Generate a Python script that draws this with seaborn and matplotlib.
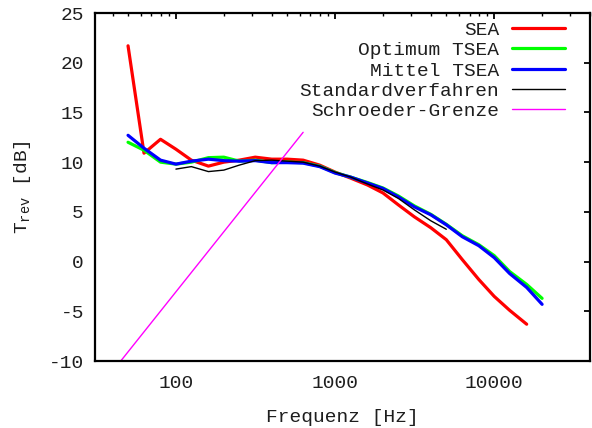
import numpy as np
import pandas as pd
import matplotlib
matplotlib.use('Agg')
import matplotlib.pyplot as plt
from matplotlib.ticker import FixedLocator, LogLocator, NullFormatter
import seaborn as sns

# third-octave band centre frequencies
freq = [50, 63, 80, 100, 125, 160, 200, 250, 315, 400, 500, 630, 800, 1000,
        1250, 1600, 2000, 2500, 3150, 4000, 5000, 6300, 8000, 10000, 12500,
        16000, 20000]

sea = [21.7, 10.9, 12.3, 11.3, 10.2, 9.6, 10.0, 10.2, 10.5, 10.3, 10.3, 10.2,
       9.7, 9.0, 8.4, 7.7, 6.9, 5.7, 4.5, 3.4, 2.2, 0.2, -1.8, -3.5, -4.9, -6.3]
opt_tsea = [12.0, 11.2, 10.0, 9.8, 10.0, 10.45, 10.5, 10.1, 10.2, 9.95, 10.0,
            9.95, 9.6, 8.95, 8.5, 7.95, 7.4, 6.6, 5.6, 4.75, 3.75, 2.6, 1.7,
            0.6, -1.0, -2.3, -3.7]
mittel_tsea = [12.7, 11.4, 10.2, 9.8, 10.1, 10.3, 10.15, 10.1, 10.15, 9.95,
               9.95, 9.9, 9.55, 8.9, 8.5, 7.9, 7.35, 6.5, 5.5, 4.7, 3.7, 2.5,
               1.6, 0.4, -1.2, -2.6, -4.3]
standard = [9.3, 9.55, 9.05, 9.2, 9.7, 10.15, 10.2, 10.1, 10.0, 9.6, 9.0, 8.5,
            7.8, 7.2, 6.35, 5.2, 4.1, 3.25]
schroeder_f = [45, 630]
schroeder = [-10.0, 13.0]

xticks = [100, 1000, 10000]
xticklabels = ['100', '1000', '10000']
yticks = [-10, -5, 0, 5, 10, 15, 20, 25]

sns.set_theme(style='white')
plt.rcParams['font.family'] = ['Liberation Mono', 'DejaVu Sans']
plt.rcParams['mathtext.fontset'] = 'custom'
plt.rcParams['mathtext.rm'] = 'Liberation Mono'
plt.rcParams['mathtext.it'] = 'Liberation Mono'
fs = 14
txt = '#1e1e1e'

fig = plt.figure(figsize=(5.92, 4.28), dpi=100)
ax = fig.add_axes([95 / 592, 1 - 361 / 428, 495 / 592, 348 / 428])

lw = 2.3
sns.lineplot(x=freq[:len(sea)], y=sea, ax=ax, color='#ff0000', lw=lw, label='SEA')
sns.lineplot(x=freq, y=opt_tsea, ax=ax, color='#00ff00', lw=lw, label='Optimum TSEA')
sns.lineplot(x=freq, y=mittel_tsea, ax=ax, color='#0000ff', lw=lw, label='Mittel TSEA')
sns.lineplot(x=freq[3:3 + len(standard)], y=standard, ax=ax, color='black', lw=1.0,
             label='Standardverfahren')
sns.lineplot(x=schroeder_f, y=schroeder, ax=ax, color='#ff00ff', lw=1.0,
             label='Schroeder-Grenze')

ax.set_xscale('log')
ax.set_xlim(31, 40000)
ax.set_ylim(-10, 25)
ax.xaxis.set_major_locator(FixedLocator(xticks))
ax.set_xticklabels(xticklabels)
ax.xaxis.set_minor_locator(LogLocator(base=10, subs=np.arange(2, 10)))
ax.xaxis.set_minor_formatter(NullFormatter())
ax.set_yticks(yticks)
ax.set_yticklabels([str(v) for v in yticks])

for s in ax.spines.values():
    s.set_linewidth(1.6)
    s.set_color('black')
ax.tick_params(which='both', direction='in', top=True, right=True,
               colors='black', labelcolor=txt, labelsize=fs)
ax.tick_params(which='major', length=4, width=1.3)
ax.tick_params(which='minor', length=2, width=1.0)
ax.tick_params(axis='x', pad=10)
ax.tick_params(axis='y', pad=8)

ax.set_xlabel('Frequenz [Hz]', fontsize=fs, labelpad=12, color=txt)
ax.set_ylabel(r'T$_{\mathrm{rev}}$ [dB]', fontsize=fs, labelpad=11, color=txt)

leg = ax.legend(loc='upper right', bbox_to_anchor=(0.95, 0.976), frameon=False,
                markerfirst=False, fontsize=fs, handlelength=2.75,
                handletextpad=0.65, labelspacing=0.14, borderaxespad=0,
                borderpad=0, labelcolor=txt)

fig.savefig('out.png', dpi=100)
